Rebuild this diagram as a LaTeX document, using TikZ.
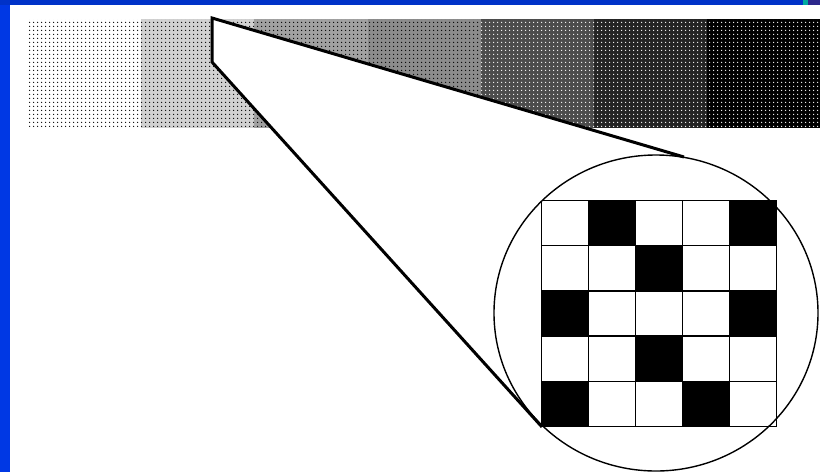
\documentclass[tikz,border=0pt]{standalone}
\usepackage{tikz}
\usetikzlibrary{patterns, calc}
\usepackage{xcolor}
\definecolor{frameblue}{RGB}{0,56,228}
\definecolor{topblue}{RGB}{0,50,200}
\definecolor{tealmark}{RGB}{0,170,160}
\definecolor{navymark}{RGB}{45,40,140}
\pgfdeclarepatternformonly{halfdots}{\pgfpointorigin}{\pgfpoint{4pt}{4pt}}{\pgfpoint{4pt}{4pt}}{%
  \pgfpathcircle{\pgfpoint{2pt}{2pt}}{0.85pt}\pgfusepath{fill}}

\tikzset{
  ht1/.style={fill=white, postaction={pattern=halfdots, pattern color=black}},
  ht2/.style={fill=black!18, postaction={pattern=halfdots, pattern color=black}},
  ht3/.style={fill=black!37, postaction={pattern=halfdots, pattern color=black}},
  ht4/.style={fill=black!45, postaction={pattern=halfdots, pattern color=black}},
  ht5/.style={fill=black!70, postaction={pattern=halfdots, pattern color=white}},
  ht6/.style={fill=black!86, postaction={pattern=halfdots, pattern color=white}},
  ht7/.style={fill=black, postaction={pattern=halfdots, pattern color=white}},
  lensline/.style={line width=3pt, black},
  lensrim/.style={line width=1.4pt, black},
  gridline/.style={line width=1.3pt, black}
}

\begin{document}
\begin{tikzpicture}[x=1pt, y=-1pt]
  \useasboundingbox (0,0) rectangle (820,472);
  \fill[white] (0,0) rectangle (820,472);
  % Slide frame
  \fill[frameblue] (0,0) rectangle (9.5,472);
  \fill[topblue] (0,0) rectangle (803,5);
  \fill[tealmark] (803,0) rectangle (808,5);
  \fill[navymark] (808,0) rectangle (820,5);
  % Halftone gray scale
  \foreach \i in {1,...,7} {
    \path[ht\i] ({28+(\i-1)*113.2},19) rectangle ({28+\i*113.2},128);
  }
  % Magnifier
  \coordinate (apextop) at (212,18);
  \coordinate (apexbot) at (212,62);
  \coordinate (rimtop) at (684,157);
  \coordinate (rimbot) at (542,427);
  \coordinate (lens) at (656,313);
  \fill[white] (apextop) -- (rimtop) -- (rimbot) -- (apexbot) -- cycle;
  \draw[lensline] (rimtop) -- (apextop) -- (apexbot) -- (rimbot);
  \draw[lensrim] (lens) ellipse [x radius=162, y radius=158];
  % Enlarged 5x5 dot pattern
  \coordinate (gridnw) at (541.5,200.5);
  \foreach \r/\c in {0/1, 0/4, 1/2, 2/0, 2/4, 3/2, 4/0, 4/3} {
    \fill ($(gridnw)+(\c*47,\r*45.2)$) rectangle +(47,45.2);
  }
  \foreach \k in {0,...,5} {
    \draw[gridline] ($(gridnw)+(\k*47,0)$) -- +(0,226);
    \draw[gridline] ($(gridnw)+(0,\k*45.2)$) -- +(235,0);
  }
\end{tikzpicture}
\end{document}
